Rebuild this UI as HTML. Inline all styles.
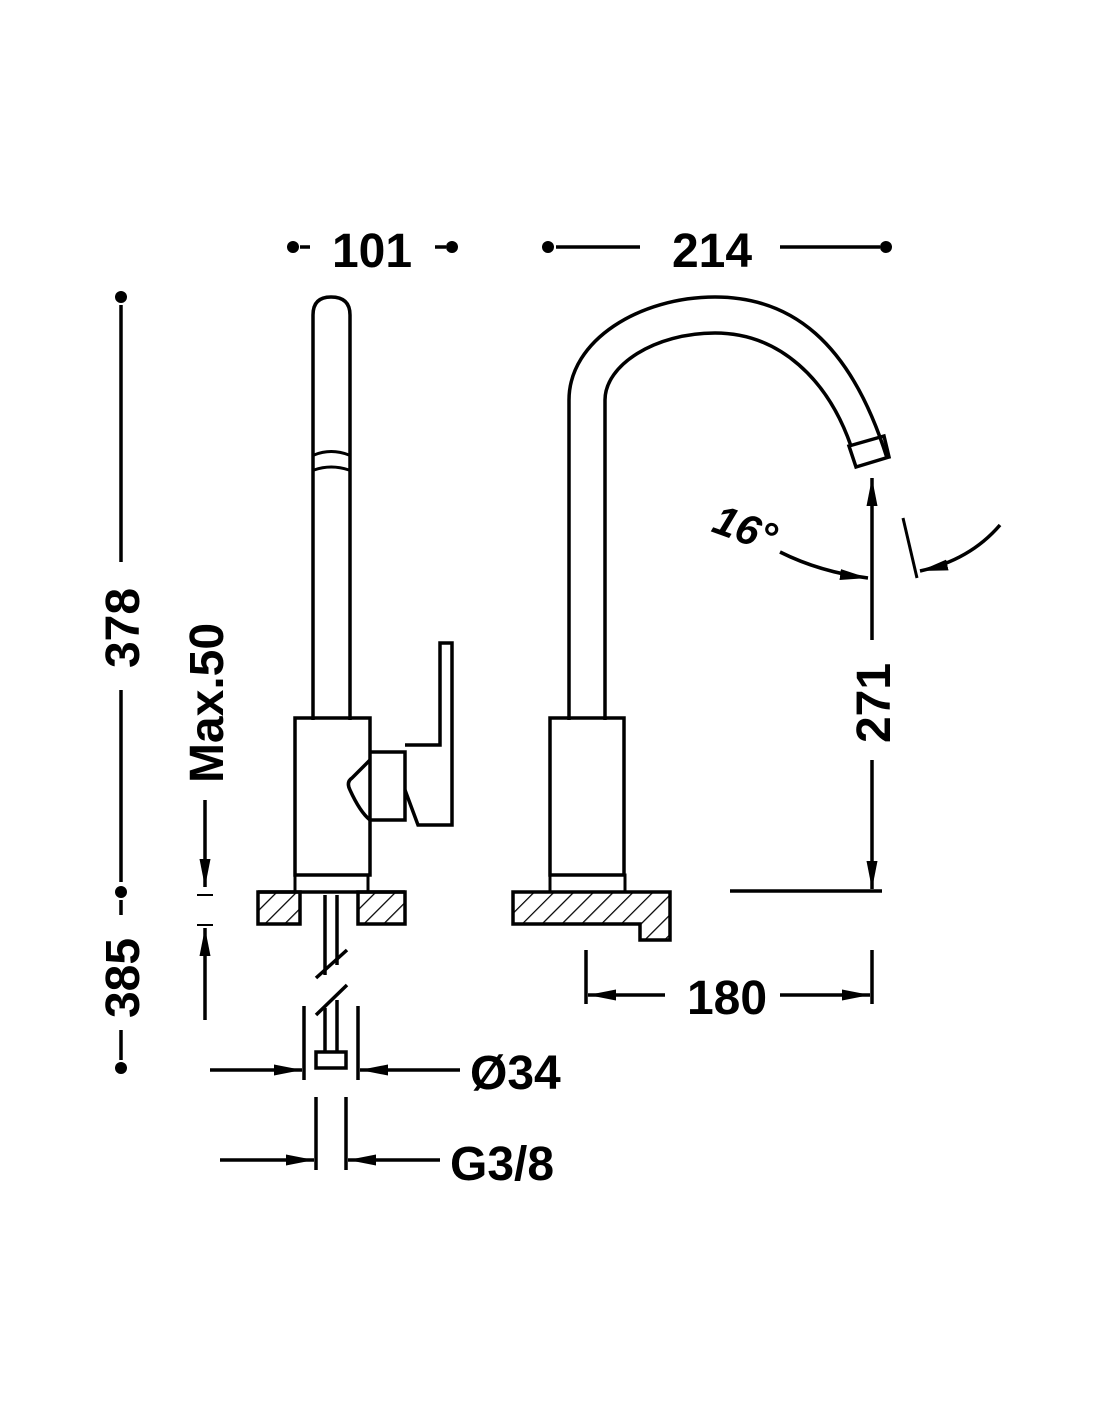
<!DOCTYPE html>
<html><head><meta charset="utf-8"><style>
html,body{margin:0;padding:0;background:#fff;}
svg{display:block}
text{font-family:"Liberation Sans",sans-serif;font-weight:bold;fill:#000}
</style></head><body>
<svg width="1100" height="1422" viewBox="0 0 1100 1422" xmlns="http://www.w3.org/2000/svg">
<defs>
<pattern id="h" width="14" height="14" patternUnits="userSpaceOnUse" patternTransform="rotate(45)">
<line x1="0" y1="0" x2="0" y2="14" stroke="#000" stroke-width="2.5"/>
</pattern>
<marker id="a" viewBox="0 0 28 12" refX="28" refY="6" markerWidth="28" markerHeight="12" markerUnits="userSpaceOnUse" orient="auto">
<path d="M0,0.5 L28,6 L0,11.5 Z" fill="#000"/>
</marker>
</defs>
<g stroke="#000" stroke-width="3.5" fill="none">
<line x1="300" y1="247" x2="310" y2="247"/>
<line x1="435" y1="247" x2="446" y2="247"/>
<line x1="556" y1="247" x2="640" y2="247"/>
<line x1="780" y1="247" x2="880" y2="247"/>
<line x1="121" y1="305" x2="121" y2="562"/>
<line x1="121" y1="690" x2="121" y2="882"/>
<line x1="121" y1="900" x2="121" y2="915"/>
<line x1="121" y1="1030" x2="121" y2="1060"/>
<line x1="205" y1="800" x2="205" y2="887" marker-end="url(#a)"/>
<line x1="197" y1="895" x2="213" y2="895" stroke-width="2"/>
<line x1="197" y1="925" x2="213" y2="925" stroke-width="2"/>
<line x1="205" y1="1020" x2="205" y2="928" marker-end="url(#a)"/>
<path d="M313,720 L313,315 Q313,297 331,297 Q350,297 350,315 L350,720"/>
<path d="M314,455 Q331,448 349,455 M314,470 Q331,464 349,470" stroke-width="3"/>
<rect x="295" y="718" width="75" height="157"/>
<rect x="295" y="875" width="73" height="17" stroke-width="3"/>
<path d="M370,752 L405,752 L405,820 L370,820 Q360,812 350,790 Q346,782 352,778 L370,760"/>
<path d="M405,745 L440,745 L440,643 L452,643 L452,825 L418,825 L405,790"/>
<rect x="258" y="892" width="42" height="32" fill="url(#h)"/>
<rect x="358" y="892" width="47" height="32" fill="url(#h)"/>
<line x1="258" y1="892" x2="405" y2="892"/>
<line x1="325" y1="895" x2="325" y2="975"/><line x1="337" y1="895" x2="337" y2="965"/>
<line x1="316" y1="978" x2="347" y2="950"/><line x1="316" y1="1015" x2="347" y2="985"/>
<line x1="325" y1="1008" x2="325" y2="1052"/><line x1="337" y1="1000" x2="337" y2="1052"/>
<rect x="316" y="1052" width="30" height="16"/>
<line x1="304" y1="1006" x2="304" y2="1080"/><line x1="358" y1="1006" x2="358" y2="1080"/>
<line x1="210" y1="1070" x2="302" y2="1070" marker-end="url(#a)"/>
<line x1="460" y1="1070" x2="360" y2="1070" marker-end="url(#a)"/>
<line x1="316" y1="1097" x2="316" y2="1170"/><line x1="346" y1="1097" x2="346" y2="1170"/>
<line x1="220" y1="1160" x2="314" y2="1160" marker-end="url(#a)"/>
<line x1="440" y1="1160" x2="348" y2="1160" marker-end="url(#a)"/>
<path d="M569,720 L569,400 C569,340 640,297 715,297 C790,297 850,340 887,458"/>
<path d="M605,720 L605,400 C605,365 655,333 715,333 C780,333 828,380 851,446"/>
<path d="M849,446 L884,436 L889,457 L856,467 Z"/>
<rect x="550" y="718" width="74" height="157"/>
<rect x="550" y="875" width="75" height="17" stroke-width="3"/>
<path d="M513,892 L670,892 L670,940 L640,940 L640,924 L513,924 Z" fill="url(#h)"/>
<line x1="872" y1="640" x2="872" y2="478" marker-end="url(#a)"/>
<line x1="872" y1="760" x2="872" y2="889" marker-end="url(#a)"/>
<line x1="730" y1="891" x2="882" y2="891"/>
<path d="M780,552 Q820,572 868,578" marker-end="url(#a)"/>
<line x1="903" y1="518" x2="917" y2="578" stroke-width="3"/>
<path d="M1000,525 Q970,560 920,571" marker-end="url(#a)"/>
<line x1="586" y1="950" x2="586" y2="1004"/><line x1="872" y1="950" x2="872" y2="1004"/>
<line x1="665" y1="995" x2="588" y2="995" marker-end="url(#a)"/>
<line x1="780" y1="995" x2="870" y2="995" marker-end="url(#a)"/>
</g>
<g fill="#000">
<circle cx="293" cy="247" r="6"/><circle cx="452" cy="247" r="6"/>
<circle cx="548" cy="247" r="6"/><circle cx="886" cy="247" r="6"/>
<circle cx="121" cy="297" r="6"/><circle cx="121" cy="892" r="6"/><circle cx="121" cy="1068" r="6"/>
</g>
<text x="372" y="267" font-size="48" text-anchor="middle">101</text>
<text x="712" y="267" font-size="48" text-anchor="middle">214</text>
<text x="727" y="1014" font-size="48" text-anchor="middle">180</text>
<text x="470" y="1089" font-size="48">Ø34</text>
<text x="450" y="1180" font-size="48">G3/8</text>
<text transform="translate(139,628) rotate(-90)" font-size="48" text-anchor="middle">378</text>
<text transform="translate(139,978) rotate(-90)" font-size="48" text-anchor="middle">385</text>
<text transform="translate(223,703) rotate(-90)" font-size="48" text-anchor="middle">Max.50</text>
<text transform="translate(890,703) rotate(-90)" font-size="48" text-anchor="middle">271</text>
<text transform="translate(740,542) rotate(20)" font-size="42" font-style="italic" text-anchor="middle">16°</text>
</svg>
</body></html>
